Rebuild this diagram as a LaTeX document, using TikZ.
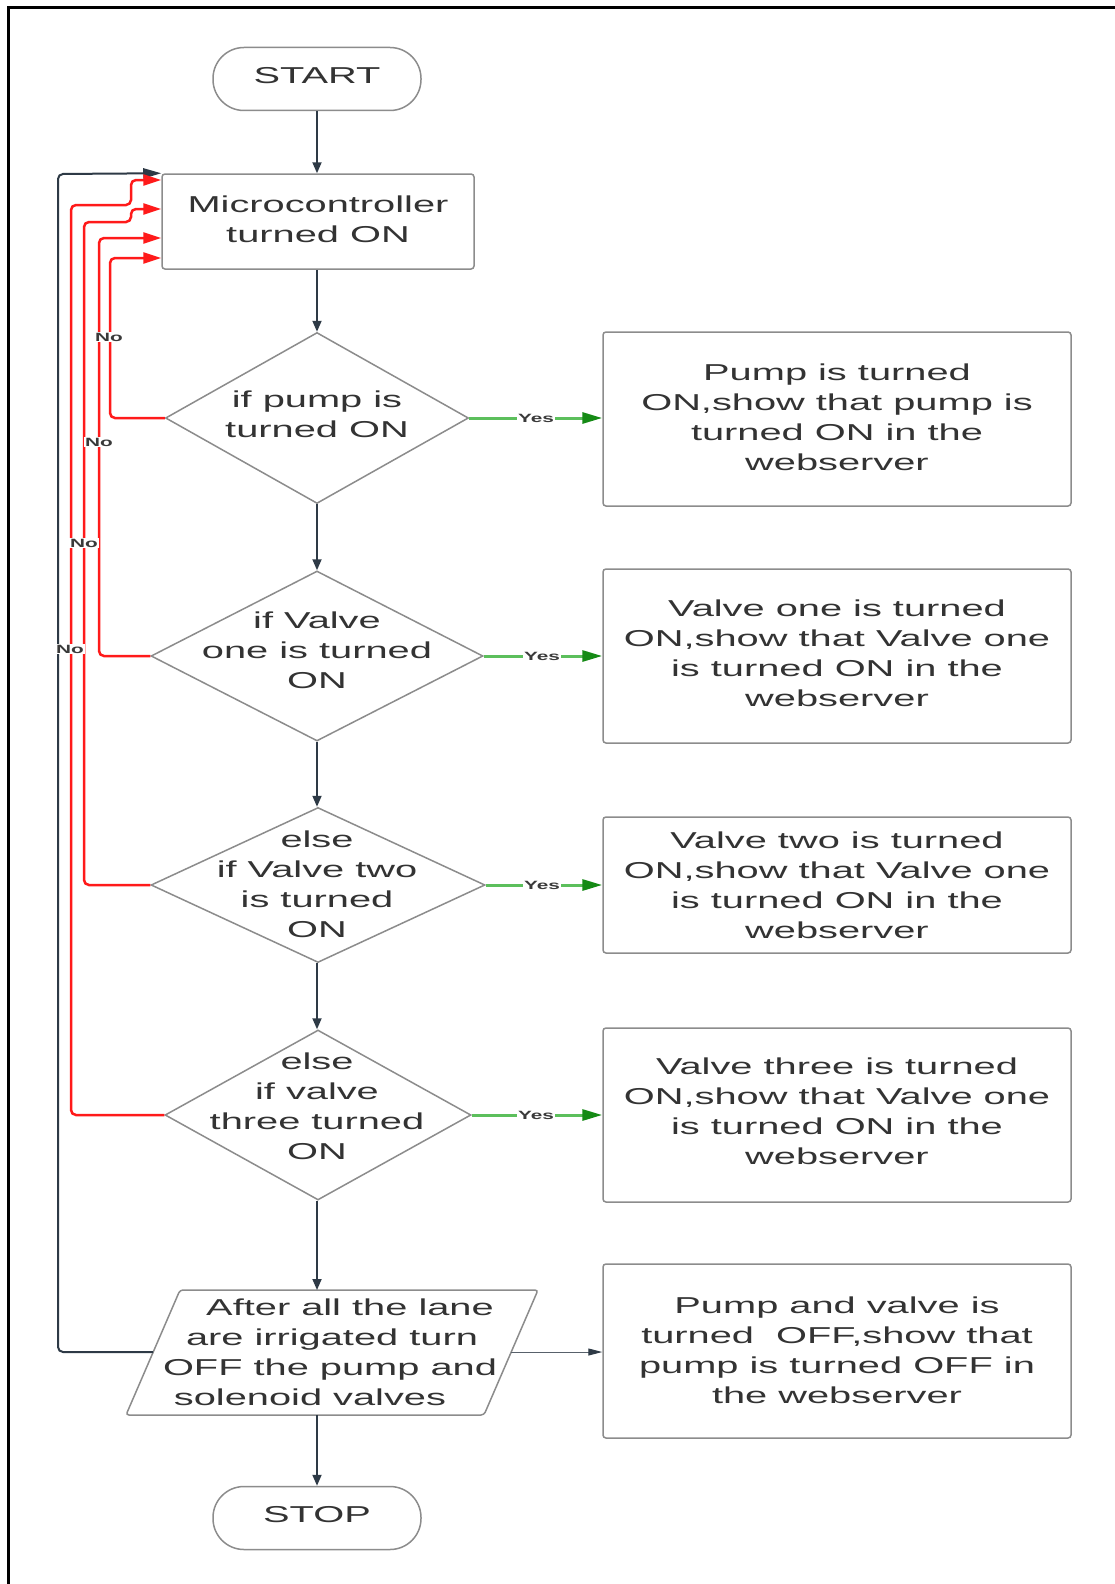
\documentclass[tikz,border=0pt]{standalone}
\usepackage{fontspec}
\setmainfont{Liberation Sans}[FakeStretch=1.73]
\usetikzlibrary{shapes.geometric,arrows.meta}
\definecolor{txtc}{HTML}{333333}
\definecolor{linec}{HTML}{8C8C8C}
\definecolor{arrc}{HTML}{2E3A46}
\definecolor{greenl}{HTML}{5CBF5C}
\definecolor{greend}{HTML}{158A15}
\definecolor{redl}{HTML}{FF1A1A}
\definecolor{labc}{HTML}{3A3A3A}
\tikzset{
  txt/.style={font=\fontsize{23}{30}\selectfont, text=txtc, align=center, inner sep=0pt},
  shp/.style={draw=linec, line width=1.5pt},
  terminal/.style={shp, rectangle, rounded corners=31pt, minimum width=208pt, minimum height=63pt, inner sep=0pt},
  proc/.style={shp, rectangle, rounded corners=3pt, inner sep=0pt},
  decision/.style={shp, diamond, inner sep=0pt},
  flow/.style={draw=arrc, line width=1.8pt, -{Triangle[length=11pt,width=9pt]}},
  noline/.style={draw=redl, line width=2.5pt, rounded corners=5pt, -{Triangle[length=18pt,width=11pt]}},
  yesline/.style={draw=greenl, line width=3pt, -{Triangle[length=20pt,width=11pt,color=greend]}},
  blackloop/.style={draw=arrc, line width=2pt, rounded corners=5pt, -{Triangle[length=18pt,width=10pt]}},
  thinarrow/.style={draw=arrc!80, line width=1pt, -{Triangle[length=14pt,width=7pt,color=arrc]}},
  lab/.style={font=\bfseries\fontsize{12}{14}\selectfont, text=labc, fill=white, inner sep=1pt}
}
\begin{document}
\begin{tikzpicture}[x=1pt,y=-1pt]
\useasboundingbox (0,0) rectangle (1115,1584);
\fill[white] (0,0) rectangle (1115,1584);
% frame
\draw[line width=3pt] (8,1584) -- (8,8) -- (1115,8);

% main column shapes
\node[terminal] (start) at (317,79) {};
\node[txt] (starttxt) at (317,76) {START};
\node[proc, minimum width=312pt, minimum height=95pt] (micro) at (318,221.5) {};
\node[txt] (microtxt) at (318,219) {Microcontroller\\turned ON};

\node[decision, minimum width=303pt, minimum height=171pt] (d1) at (317,418) {};
\node[txt] (d1txt) at (317,414) {if pump is\\turned ON};
\node[decision, minimum width=332pt, minimum height=170pt] (d2) at (317,656) {};
\node[txt] (d2txt) at (317,650) {if Valve\\one is turned\\ON};
\node[decision, minimum width=334pt, minimum height=155pt] (d3) at (318,885) {};
\node[txt] (d3txt) at (317,884) {else\\if Valve two\\is turned\\ON};
\node[decision, minimum width=306pt, minimum height=170pt] (d4) at (318,1115) {};
\node[txt] (d4txt) at (317,1106) {else\\if valve\\three turned\\ON};

% parallelogram
\coordinate (pTL) at (180,1290);
\coordinate (pTR) at (538,1290);
\coordinate (pBR) at (484,1415);
\coordinate (pBL) at (126,1415);
\coordinate (pL) at (153,1352);
\coordinate (pR) at (511,1352);
\coordinate (pT) at (317,1290);
\coordinate (pB) at (317,1415);
\draw[shp, rounded corners=3pt] (pTL) -- (pTR) -- (pBR) -- (pBL) -- cycle;
\node[txt] (paratxt) at (330,1352) {\hspace*{40pt}After all the lane\\\hspace*{4pt}are irrigated turn\\OFF the pump and\hspace*{12pt}\\solenoid valves\hspace*{40pt}};

\node[terminal] (stop) at (317,1518) {};
\node[txt] (stoptxt) at (317,1515) {STOP};

% right boxes
\node[proc, minimum width=468pt, minimum height=174pt] (b1) at (837,419) {};
\node[txt] (b1txt) at (837,417) {Pump is turned\\ON,show that pump is\\turned ON in the\\webserver};
\node[proc, minimum width=468pt, minimum height=174pt] (b2) at (837,656) {};
\node[txt] (b2txt) at (837,653) {Valve one is turned\\ON,show that Valve one\\is turned ON in the\\webserver};
\node[proc, minimum width=468pt, minimum height=136pt] (b3) at (837,885) {};
\node[txt] (b3txt) at (837,885) {Valve two is turned\\ON,show that Valve one\\is turned ON in the\\webserver};
\node[proc, minimum width=468pt, minimum height=174pt] (b4) at (837,1115) {};
\node[txt] (b4txt) at (837,1111) {Valve three is turned\\ON,show that Valve one\\is turned ON in the\\webserver};
\node[proc, minimum width=468pt, minimum height=174pt] (b5) at (837,1351) {};
\node[txt] (b5txt) at (837,1350) {Pump and valve is\\turned~ OFF,show that\\pump is turned OFF in\\the webserver};

% vertical flow
\draw[flow] (start.south) -- (micro.north -| start.south);
\draw[flow] (micro.south -| start.south) -- (d1.north);
\draw[flow] (d1.south) -- (d2.north -| d1.south);
\draw[flow] (d2.south -| d1.south) -- (d3.north -| d1.south);
\draw[flow] (d3.south -| d1.south) -- (d4.north -| d1.south);
\draw[flow] (d4.south -| d1.south) -- (pT);
\draw[flow] (pB) -- (stop.north);

% black loop back
\coordinate (lp0) at (58,174);
\draw[blackloop] (pL) -| (lp0) -- (micro.north west);

% red "No" loops
\coordinate (r1) at (110,258);
\coordinate (r2) at (99,238);
\coordinate (r3) at (84,222);
\coordinate (r3j) at (131,209);
\coordinate (r4) at (71,205);
\coordinate (r4j) at (131,180);
\draw[noline] (d1.west) -| (r1) -- (r1 -| micro.west);
\draw[noline] (d2.west) -| (r2) -- (r2 -| micro.west);
\draw[noline] (d3.west) -| (r3) -| (r3j) -- (r3j -| micro.west);
\draw[noline] (d4.west) -| (r4) -| (r4j) -- (r4j -| micro.west);
\node[lab] (no1) at (109,337) {No};
\node[lab] (no2) at (99,442) {No};
\node[lab] (no3) at (84,543) {No};
\node[lab] (no4) at (70,649) {No};

% green "Yes" arrows
\draw[yesline] (d1.east) -- (d1.east -| b1.west);
\draw[yesline] (d2.east) -- (d2.east -| b2.west);
\draw[yesline] (d3.east) -- (d3.east -| b3.west);
\draw[yesline] (d4.east) -- (d4.east -| b4.west);
\node[lab] (yes1) at (536,418) {Yes};
\node[lab] (yes2) at (542,656) {Yes};
\node[lab] (yes3) at (542,885) {Yes};
\node[lab] (yes4) at (536,1115) {Yes};

% parallelogram to final box
\draw[thinarrow] (pR) -- (pR -| b5.west);
\end{tikzpicture}
\end{document}
